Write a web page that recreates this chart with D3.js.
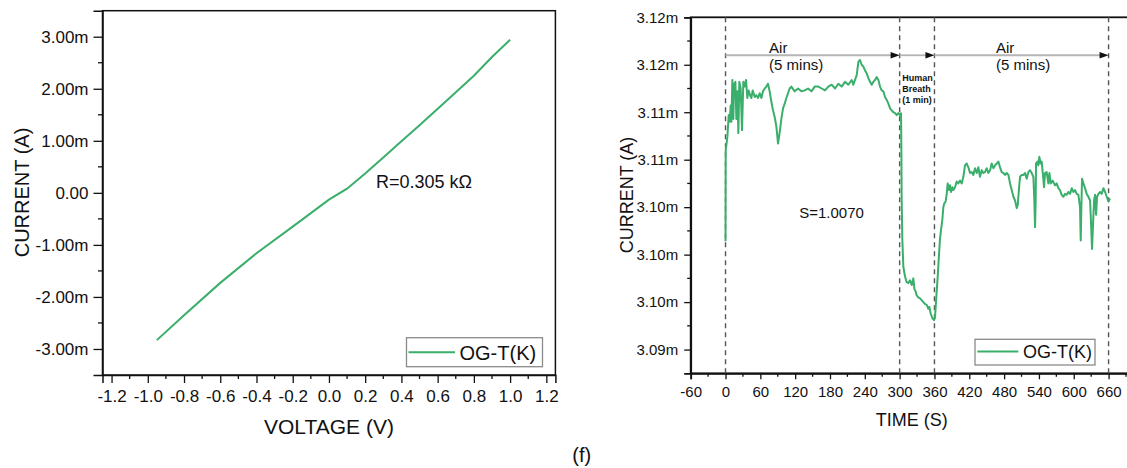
<!DOCTYPE html>
<html><head><meta charset="utf-8">
<script src="https://cdn.jsdelivr.net/npm/d3@7"></script>
<style>
html,body{margin:0;padding:0;background:#fff;}
svg{display:block;font-family:"Liberation Sans",Arial,sans-serif;}
</style></head>
<body>
<svg id="c" width="1127" height="468"></svg>
<script>
// ---------- Left panel: I-V curve ----------
const voltage = [-0.95, -0.8, -0.6, -0.4, -0.2, 0.0, 0.1, 0.2, 0.3, 0.4, 0.5, 0.64, 0.8, 0.9, 1.0];
const currentIV = [-2.83, -2.35, -1.73, -1.16, -0.65, -0.13, 0.08, 0.37, 0.68, 0.99, 1.30, 1.74, 2.25, 2.61, 2.94]; // mA
const ivXTicks = [-1.2, -1.0, -0.8, -0.6, -0.4, -0.2, 0.0, 0.2, 0.4, 0.6, 0.8, 1.0, 1.2];
const ivXLabels = ["-1.2","-1.0","-0.8","-0.6","-0.4","-0.2","0.0","0.2","0.4","0.6","0.8","1.0","1.2"];
const ivYTicks = [-3, -2, -1, 0, 1, 2, 3];
const ivYLabels = ["-3.00m","-2.00m","-1.00m","0.00","1.00m","2.00m","3.00m"];

// ---------- Right panel: current vs time ----------
const timeS = [0,0.3,1.4,3.2,5.5,7.2,8.9,10.1,11.8,13.5,14.6,17,18.7,20.4,22.1,23.8,26.1,28.4,30.7,33,35.3,37.6,39.9,42.2,44.5,46.8,50.3,53.1,56,58.9,61.8,64.6,67.5,70.4,73.2,76.1,79,81.8,84.7,87.6,90.5,93.4,96.2,99.1,102,104.8,107.7,110.5,113.4,119.2,125,130.7,136.5,142.2,148,153.7,
159.9,165.7,171.4,177.2,182.9,188.7,194.4,200.1,205.9,211.6,217.3,220.2,223.1,226,228.9,231.7,234.6,237.5,240.4,243.2,246.1,249,251.9,254.7,257.6,260.5,263.4,266.2,269.1,272,274.8,277.7,280.6,283.5,286.3,289.2,292.1,295,297.8,300.7,302.4,
303,303.5,304.7,306.4,309.3,312.1,315,317.9,320.8,323.6,325.4,327.7,329.4,332.2,335.1,338,340.9,343.7,346.6,349.5,351.2,353.5,356.4,359.2,361,362.1,363.9,365.6,367.8,369.6,371.3,373.6,375.3,377,379.3,381.1,382.8,385.1,386.8,388.5,390.8,392.5,395.4,398.3,401.1,404,406.9,409.8,412.6,415.5,418.4,421.3,424.2,427,429.9,432.8,435.6,438.5,441.4,444.3,447.1,450,452.9,455.8,458.6,461.5,464.4,467.3,470.1,473,475.9,478.7,481.6,484.5,487.4,490.2,493.1,496,498.9,501.7,503.5,505.8,507.5,510.4,513.3,516.1,
518.9,521.8,524.6,527.5,530.4,532.1,533.3,534.4,535,537.3,539,540.7,543,544.7,546.5,548.8,550.5,553.3,556.2,558,560.3,563.7,567.7,570.6,573.5,576.3,579.2,582.1,585,587.8,590.7,593.6,596.5,599.3,602.2,605.1,608,610.8,612,613.1,614.3,616.6,619.5,622.3,625.2,628.1,629.8,631.5,633.3,635,636.7,638.5,640.2,642.5,645.3,648.2,651.1,654,656.8,659.7,662.6];
const currentMA = [3.1014,3.1110,3.1115,3.1124,3.1147,3.1140,3.1157,3.1140,3.1184,3.1143,3.1179,3.1182,3.1143,3.1172,3.1128,3.1182,3.1175,3.1131,3.1182,3.1177,3.1184,3.1165,3.1173,3.1168,3.1165,3.1173,3.1166,3.1168,3.1165,3.1170,3.1165,3.1172,3.1175,3.1177,3.1180,3.1172,3.1161,3.1152,3.1145,3.1135,3.1117,3.1129,3.1143,3.1154,3.1159,3.1165,3.1170,3.1175,3.1177,3.1172,3.1175,3.1172,3.1173,3.1175,3.1172,3.1177,
3.1177,3.1175,3.1173,3.1177,3.1179,3.1175,3.1180,3.1177,3.1182,3.1179,3.1184,3.1179,3.1184,3.1189,3.1203,3.1205,3.1200,3.1198,3.1194,3.1191,3.1186,3.1182,3.1179,3.1182,3.1184,3.1187,3.1184,3.1177,3.1173,3.1172,3.1166,3.1163,3.1159,3.1154,3.1152,3.1150,3.1149,3.1147,3.1149,3.1147,3.1149,
3.1110,3.1057,3.1015,3.0987,3.0977,3.0971,3.0970,3.0973,3.0968,3.0975,3.0964,3.0961,3.0957,3.0955,3.0954,3.0952,3.0950,3.0948,3.0947,3.0943,3.0945,3.0938,3.0933,3.0931,3.0934,3.0945,3.0962,3.0977,3.1000,3.1017,3.1026,3.1037,3.1050,3.1054,3.1056,3.1064,3.1075,3.1068,3.1073,3.1066,3.1071,3.1068,3.1071,3.1077,3.1075,3.1078,3.1075,3.1082,3.1094,3.1096,3.1092,3.1086,3.1087,3.1084,3.1091,3.1086,3.1092,3.1082,3.1089,3.1086,3.1087,3.1091,3.1086,3.1089,3.1096,3.1091,3.1094,3.1096,3.1098,3.1092,3.1087,3.1086,3.1084,3.1086,3.1084,3.1075,3.1068,3.1061,3.1057,3.1049,3.1052,3.1071,3.1082,3.1084,3.1084,3.1086,
3.1080,3.1087,3.1089,3.1086,3.1082,3.1057,3.1029,3.1057,3.1096,3.1098,3.1094,3.1103,3.1096,3.1098,3.1087,3.1071,3.1086,3.1087,3.1075,3.1086,3.1075,3.1078,3.1073,3.1075,3.1070,3.1068,3.1063,3.1061,3.1064,3.1063,3.1066,3.1064,3.1070,3.1066,3.1068,3.1064,3.1063,3.1050,3.1015,3.1050,3.1080,3.1075,3.1070,3.1064,3.1061,3.1057,3.1033,3.1006,3.1033,3.1057,3.1063,3.1042,3.1061,3.1064,3.1066,3.1064,3.1070,3.1066,3.1061,3.1056,3.1059];
const tXTicks = [-60, 0, 60, 120, 180, 240, 300, 360, 420, 480, 540, 600, 660];
const tXLabels = ["-60","0","60","120","180","240","300","360","420","480","540","600","660"];
const tYTicks = [3.09, 3.095, 3.10, 3.105, 3.11, 3.115, 3.12, 3.125];
const tYLabels = ["3.09m","3.10m","3.10m","3.10m","3.11m","3.11m","3.12m","3.12m"];
const phaseBounds = [0, 300, 360, 660];

const GREEN = "#3aae6b";
const svg = d3.select("#c");
svg.append("rect").attr("width",1127).attr("height",468).attr("fill","#fff");

function minorTicks(g, scale, vals, orient, len) {
  vals.forEach(v => {
    const p = scale(v);
    if (orient === "bottom") g.append("line").attr("x1",p).attr("x2",p).attr("y1",0).attr("y2",len);
    else g.append("line").attr("x1",0).attr("x2",-len).attr("y1",p).attr("y2",p);
  });
  g.selectAll("line").attr("stroke","#111").attr("stroke-width",1.3);
}

// ===== Left =====
const xL = d3.scaleLinear().domain([-1.25, 1.25]).range([102.5, 555.4]);
const yL = d3.scaleLinear().domain([-3.5, 3.5]).range([375, 10.7]);
const gL = svg.append("g");
gL.append("rect").attr("x",xL(-1.25)).attr("y",yL(3.5)).attr("width",xL(1.25)-xL(-1.25)).attr("height",yL(-3.5)-yL(3.5))
  .attr("fill","none").attr("stroke","#111").attr("stroke-width",1.5);
const axLB = gL.append("g").attr("transform",`translate(0,${yL(-3.5)})`)
  .call(d3.axisBottom(xL).tickValues(ivXTicks).tickFormat((d,i)=>ivXLabels[i]).tickSize(8).tickPadding(7));
const axLL = gL.append("g").attr("transform",`translate(${xL(-1.25)},0)`)
  .call(d3.axisLeft(yL).tickValues(ivYTicks).tickFormat((d,i)=>ivYLabels[i]).tickSize(9).tickPadding(5));
[axLB, axLL].forEach(a => {
  a.select(".domain").attr("stroke","#111").attr("stroke-width",1.5);
  a.selectAll(".tick line").attr("stroke","#111").attr("stroke-width",1.3);
  a.selectAll("text").attr("fill","#111").style("font-size","17px").style("font-family","Liberation Sans, Arial, sans-serif");
});
minorTicks(gL.append("g").attr("transform",`translate(0,${yL(-3.5)})`), xL, d3.range(-1.1, 1.2, 0.2), "bottom", 4);
minorTicks(gL.append("g").attr("transform",`translate(${xL(-1.25)},0)`), yL, [-2.5,-1.5,-0.5,0.5,1.5,2.5], "left", 4.5);

gL.append("path").datum(voltage.map((v,i)=>[v,currentIV[i]]))
  .attr("fill","none").attr("stroke",GREEN).attr("stroke-width",2)
  .attr("d", d3.line().x(d=>xL(d[0])).y(d=>yL(d[1])));

gL.append("text").attr("x",376).attr("y",187.7).attr("font-size",18).attr("fill","#111").text("R=0.305 kΩ");
// legend
gL.append("rect").attr("x",406.5).attr("y",337.7).attr("width",136).attr("height",29)
  .attr("fill","#fff").attr("stroke","#8a8a8a").attr("stroke-width",1.3);
gL.append("line").attr("x1",408.5).attr("x2",455).attr("y1",352.3).attr("y2",352.3).attr("stroke",GREEN).attr("stroke-width",2);
gL.append("text").attr("x",459.5).attr("y",359.5).attr("font-size",20).attr("fill","#111").text("OG-T(K)");
gL.append("text").attr("transform","translate(28.5,192.5) rotate(-90)").attr("text-anchor","middle")
  .attr("font-size",20).attr("fill","#111").text("CURRENT (A)");
gL.append("text").attr("x",329).attr("y",434.3).attr("text-anchor","middle").attr("font-size",21).attr("fill","#111").text("VOLTAGE (V)");

// ===== Right =====
const xR = d3.scaleLinear().domain([-60, 720]).range([690.7, 1143.4]);
const yR = d3.scaleLinear().domain([3.0875, 3.125]).range([373.3, 17.3]);
const gR = svg.append("g");
gR.append("rect").attr("x",xR(-60)).attr("y",yR(3.125)).attr("width",xR(720)-xR(-60)).attr("height",yR(3.0875)-yR(3.125))
  .attr("fill","none").attr("stroke","#111").attr("stroke-width",1.8);
const axRB = gR.append("g").attr("transform",`translate(0,${yR(3.0875)})`)
  .call(d3.axisBottom(xR).tickValues(tXTicks).tickFormat((d,i)=>tXLabels[i]).tickSize(6).tickPadding(7));
const axRL = gR.append("g").attr("transform",`translate(${xR(-60)},0)`)
  .call(d3.axisLeft(yR).tickValues(tYTicks).tickFormat((d,i)=>tYLabels[i]).tickSize(6.5).tickPadding(6));
[axRB, axRL].forEach(a => {
  a.select(".domain").attr("stroke","#111").attr("stroke-width",1.8);
  a.selectAll(".tick line").attr("stroke","#111").attr("stroke-width",1.3);
  a.selectAll("text").attr("fill","#111").style("font-size","15px").style("font-family","Liberation Sans, Arial, sans-serif");
});
minorTicks(gR.append("g").attr("transform",`translate(0,${yR(3.0875)})`), xR, d3.range(-30, 720, 60), "bottom", 3.5);
minorTicks(gR.append("g").attr("transform",`translate(${xR(-60)},0)`), yR, [3.0925,3.0975,3.1025,3.1075,3.1125,3.1175,3.1225], "left", 3.5);

// dashed phase lines
phaseBounds.forEach(t => {
  gR.append("line").attr("x1",xR(t)).attr("x2",xR(t)).attr("y1",yR(3.125)).attr("y2",yR(3.0875))
    .attr("stroke","#555").attr("stroke-width",1.4).attr("stroke-dasharray","5,4");
});
// arrows
const arrowY = yR(3.121);
for (let i = 0; i < phaseBounds.length - 1; i++) {
  const x0 = xR(phaseBounds[i]), x1 = xR(phaseBounds[i+1]);
  gR.append("line").attr("x1",x0).attr("x2",x1-8).attr("y1",arrowY).attr("y2",arrowY).attr("stroke","#b4b4b4").attr("stroke-width",1.8);
  gR.append("path").attr("d",`M${x1},${arrowY} L${x1-9},${arrowY-3.2} L${x1-9},${arrowY+3.2} Z`).attr("fill","#111");
}
gR.append("path").datum(timeS.map((t,i)=>[t,currentMA[i]]))
  .attr("fill","none").attr("stroke",GREEN).attr("stroke-width",2).attr("stroke-linejoin","round")
  .attr("d", d3.line().x(d=>xR(d[0])).y(d=>yR(d[1])));

const ann = gR.append("g").attr("fill","#111");
ann.append("text").attr("x",xR(75)).attr("y",arrowY-2.7).attr("font-size",15).text("Air");
ann.append("text").attr("x",xR(75)).attr("y",arrowY+15).attr("font-size",15).text("(5 mins)");
ann.append("text").attr("x",xR(466)).attr("y",arrowY-2.7).attr("font-size",15).text("Air");
ann.append("text").attr("x",xR(466)).attr("y",arrowY+15).attr("font-size",15).text("(5 mins)");
["Human","Breath","(1 min)"].forEach((s,i)=>{
  ann.append("text").attr("x",xR(304.5)).attr("y",81+i*11).attr("font-size",9).attr("font-weight","bold").text(s);
});
ann.append("text").attr("x",xR(127)).attr("y",218.3).attr("font-size",15).text("S=1.0070");
// legend
gR.append("rect").attr("x",975).attr("y",339.3).attr("width",120).attr("height",25.7)
  .attr("fill","#fff").attr("stroke","#8a8a8a").attr("stroke-width",1.3);
gR.append("line").attr("x1",977.3).attr("x2",1018.3).attr("y1",351.5).attr("y2",351.5).attr("stroke",GREEN).attr("stroke-width",2);
gR.append("text").attr("x",1023).attr("y",358.3).attr("font-size",18).attr("fill","#111").text("OG-T(K)");
gR.append("text").attr("transform","translate(633,195) rotate(-90)").attr("text-anchor","middle")
  .attr("font-size",18).attr("fill","#111").text("CURRENT (A)");
gR.append("text").attr("x",911.8).attr("y",425.7).attr("text-anchor","middle").attr("font-size",18).attr("fill","#111").text("TIME (S)");

svg.append("text").attr("x",581.7).attr("y",462).attr("text-anchor","middle").attr("font-size",20).attr("fill","#111").text("(f)");
</script>
</body></html>
